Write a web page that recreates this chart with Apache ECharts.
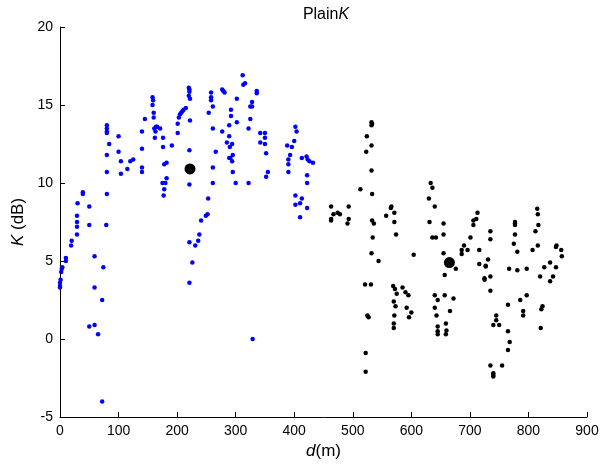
<!DOCTYPE html>
<html><head><meta charset="utf-8">
<script src="https://cdn.jsdelivr.net/npm/echarts@6/dist/echarts.min.js"></script>
<style>html,body{margin:0;padding:0;background:#fff}#c{width:604px;height:468px}</style>
</head><body><div id="c"></div>
<script>
const blueD = [39,39,80,30,50,29,29,29,50,79,29,20,19,10,10,59,4,3,2,74,1,0,0,0,59,72,50,59,65,72,
80,80,80,80,84,80,80,100,100,104,104,115,120,125,140,145,140,140,140,
158,159,158,160,160,161,164,166,171,163,162,176,176,191,178,182,182,201,201,203,205,207,209,211,215,220,221,221,220,222,222,221,
258,258,258,261,254,261,266,261,277,279,281,302,292,292,302,289,277,289,285,294,290,295,289,291,294,295,312,313,316,336,336,328,325,328,325,322,342,350,350,342,350,352,355,352,
175,180,178,177,221,261,300,322,253,249,252,241,238,236,221,231,226,221,329,
400,388,396,393,390,390,390,413,421,423,426,432,422,422,402,413,410,402,422,410,402,404];
const blueK = [9.4,9.3,9.3,8.7,8.5,7.9,7.5,7.2,7.3,7.3,6.7,6.3,6.0,5.2,5.0,5.3,4.6,4.5,4.3,4.6,3.8,3.6,3.4,3.3,3.3,2.5,0.8,0.9,0.3,-4.0,
13.7,13.5,13.3,13.2,12.5,11.8,10.7,13.0,12.0,11.4,10.6,10.9,11.4,11.5,13.3,14.1,12.2,11.0,10.7,
15.5,15.3,15.0,14.5,14.2,13.5,13.6,13.6,13.5,13.3,12.9,12.9,12.3,12.4,11.2,11.3,10.3,13.8,13.2,14.2,14.4,14.5,14.6,14.7,14.8,16.1,16.0,15.85,15.6,15.4,14.0,12.1,
15.8,15.5,15.3,14.9,14.5,13.5,12.0,11.0,16.0,15.9,15.8,15.4,14.7,14.3,13.9,13.7,13.3,13.0,12.6,12.5,12.3,11.8,11.6,11.6,11.4,10.7,16.9,16.3,16.4,15.9,15.75,15.2,14.9,14.9,14.1,13.5,13.2,13.2,12.9,12.6,12.5,11.9,10.7,10.4,
10.0,10.0,9.6,9.2,9.9,10.0,10.0,10.0,9.0,7.9,8.0,7.6,6.7,6.3,6.2,6.0,4.9,3.6,0.0,
12.7,12.4,12.3,11.8,11.5,11.2,10.7,11.6,11.7,11.5,11.4,11.3,10.5,10.0,9.2,9.0,8.7,8.6,8.4,7.8,13.6,13.3];
const blackD = [532,533,532,524,532,523,532,513,533,463,493,467,474,478,463,463,493,491,533,536,557,566,565,571,571,574,534,532,544,604,
521,531,525,527,522,522,569,572,575,570,573,571,570,570,585,590,595,592,600,596,
633,636,630,640,631,636,642,640,645,640,643,645,645,645,
655,655,655,657,657,672,666,659,660,659,676,686,686,690,696,701,706,706,711,713,716,716,727,727,731,725,725,735,735,735,735,745,745,740,750,735,755,740,740,740,
765,765,768,765,767,781,797,777,777,777,777,775,781,786,797,791,791,815,816,817,812,816,807,820,824,822,821,827,837,847,842,837,847,848,856,857];
const blackK = [13.9,13.8,13.7,13.0,12.4,12.0,10.8,9.6,9.3,8.5,8.5,8.0,8.1,8.0,7.7,7.6,7.7,7.4,7.6,7.4,7.9,8.5,8.4,8.1,7.5,6.7,6.5,5.5,5.0,5.4,
3.5,3.5,1.5,1.4,-0.9,-2.1,3.4,3.2,2.9,2.4,2.1,1.5,1.0,0.7,3.3,3.0,2.8,2.0,1.7,1.4,
10.0,9.7,9.0,8.5,7.5,6.5,6.5,2.8,2.5,2.0,1.5,0.8,0.5,0.3,
7.4,6.7,5.5,4.1,2.8,2.6,1.8,1.0,0.55,0.3,4.5,5.7,5.45,6.0,5.7,6.5,7.3,7.6,7.7,8.1,5.7,4.8,4.7,4.65,5.1,3.9,3.8,6.9,6.4,4.0,3.1,1.5,1.2,0.9,0.9,-1.7,-1.7,-2.2,-2.3,-2.4,
2.2,0.5,-0.2,-0.7,4.5,4.4,4.5,7.5,7.4,7.3,6.7,6.1,5.6,2.5,2.8,1.8,1.5,8.35,8.0,7.3,6.9,6.0,5.7,4.0,2.1,1.9,0.7,4.6,4.9,4.6,4.0,3.7,5.9,6.0,5.7,5.3];
const meanD = [222, 665];
const meanK = [10.9, 4.9];
const xName = 'd';
const yName = 'K';

const zip = (a, b) => a.map((v, i) => [v, b[i]]);
const chart = echarts.init(document.getElementById('c'));
const font = 'Liberation Sans, Arial, sans-serif';
const rich = (size) => ({
  i: { fontFamily: font, fontSize: size, fontStyle: 'italic', fontWeight: 'normal', color: '#000' },
  n: { fontFamily: font, fontSize: size, fontWeight: 'normal', color: '#000' }
});
chart.setOption({
  animation: false,
  backgroundColor: '#fff',
  title: {
    text: '{n|Plain}{i|K}', left: 321, top: 2, textAlign: 'center',
    textStyle: { fontWeight: 'normal', rich: rich(16) }
  },
  grid: { left: 60, right: 17, top: 27, bottom: 51, containLabel: false },
  xAxis: {
    type: 'value', min: 0, max: 900, interval: 100,
    name: '{i|' + xName + '}{n|(m)}', nameLocation: 'middle', nameGap: 24,
    nameTextStyle: { rich: rich(17) },
    axisLine: { onZero: false, lineStyle: { color: '#000', width: 1 } },
    axisTick: { inside: true, length: 5, lineStyle: { color: '#000' } },
    axisLabel: { color: '#000', fontFamily: font, fontSize: 14, margin: 7 },
    splitLine: { show: false }
  },
  yAxis: {
    type: 'value', min: -5, max: 20, interval: 5,
    name: '{i|' + yName + '}{n| (dB)}', nameLocation: 'middle', nameGap: 32, nameRotate: 90,
    nameTextStyle: { rich: rich(17) },
    axisLine: { show: true, onZero: false, lineStyle: { color: '#000', width: 1 } },
    axisTick: { show: true, inside: true, length: 5, lineStyle: { color: '#000' } },
    axisLabel: { color: '#000', fontFamily: font, fontSize: 14, margin: 7 },
    splitLine: { show: false }
  },
  series: [
    { type: 'scatter', data: zip(blueD, blueK), symbolSize: 4.5, itemStyle: { color: '#0000ff', opacity: 1 } },
    { type: 'scatter', data: zip(blackD, blackK), symbolSize: 4.5, itemStyle: { color: '#000', opacity: 1 } },
    { type: 'scatter', data: zip(meanD, meanK), symbolSize: 11, itemStyle: { color: '#000', opacity: 1 } }
  ]
});
</script></body></html>
